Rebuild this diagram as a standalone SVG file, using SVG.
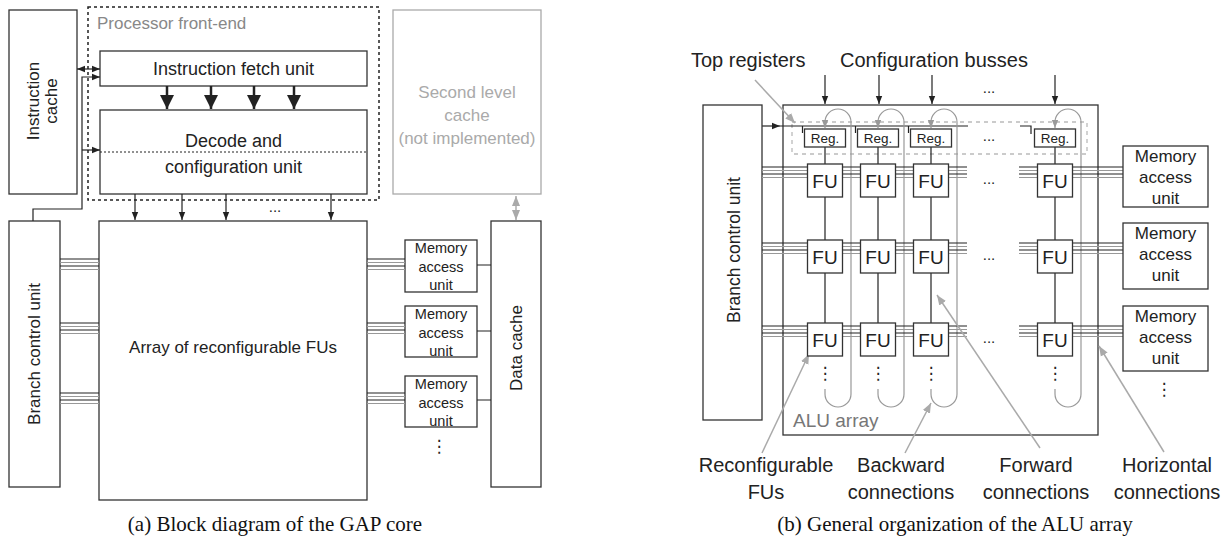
<svg xmlns="http://www.w3.org/2000/svg" width="1228" height="536" viewBox="0 0 1228 536">
<style>
text{font-family:"Liberation Sans",Arial,sans-serif;fill:#222}
.box{fill:#fff;stroke:#333;stroke-width:1.3}
.gbox{fill:#fff;stroke:#aaa;stroke-width:1.3}
.ln{stroke:#222;stroke-width:1.2;fill:none}
.gl{stroke:#999;stroke-width:1.2;fill:none}
.gp{stroke:#aaa;stroke-width:1.5;fill:none}
.c{text-anchor:middle}
.t17{font-size:17px}
.t18{font-size:18px}
.t20{font-size:20px}
.mau{font-size:14.5px;text-anchor:middle}
.maur{font-size:17px;text-anchor:middle}
.fu{font-size:19px;text-anchor:middle}
.reg{font-size:13.5px;text-anchor:middle}
.cap{font-family:"Liberation Serif","Times New Roman",serif;font-size:21px;text-anchor:middle;fill:#111}
.vd{font-family:"DejaVu Sans",sans-serif;font-size:17px;text-anchor:middle}
.hd{font-size:15px;text-anchor:middle}
</style>
<defs>
<marker id="a" viewBox="0 0 10 10" refX="10" refY="5" markerWidth="8" markerHeight="8" markerUnits="userSpaceOnUse" orient="auto-start-reverse"><path d="M0,1 L10,5 L0,9 z" fill="#222"/></marker>
<marker id="ab" viewBox="0 0 10 10" refX="10" refY="5" markerWidth="14" markerHeight="14" markerUnits="userSpaceOnUse" orient="auto"><path d="M0,0 L10,5 L0,10 z" fill="#222"/></marker>
<marker id="ag" viewBox="0 0 10 10" refX="10" refY="5" markerWidth="10" markerHeight="10" markerUnits="userSpaceOnUse" orient="auto-start-reverse"><path d="M0,1 L10,5 L0,9 z" fill="#aaa"/></marker>
<marker id="ag2" viewBox="0 0 10 10" refX="10" refY="5" markerWidth="8" markerHeight="8" markerUnits="userSpaceOnUse" orient="auto"><path d="M0,1 L10,5 L0,9 z" fill="#999"/></marker>
</defs>

<!-- ===== LEFT DIAGRAM ===== -->
<g id="frontend">
<rect x="88" y="7" width="291" height="193" fill="none" stroke="#222" stroke-width="1.5" stroke-dasharray="3,3"/>
<text x="97" y="29" class="t17" style="fill:#888">Processor front-end</text>
</g>
<g id="icache">
<rect class="box" x="9" y="10" width="68" height="184"/>
<text class="t17 c" transform="translate(39,101) rotate(-90)">Instruction</text>
<text class="t17 c" transform="translate(57,101) rotate(-90)">cache</text>
</g>
<g id="fetch">
<rect class="box" x="100" y="51" width="267" height="35"/>
<text class="t18 c" x="233.5" y="75">Instruction fetch unit</text>
</g>
<g id="decode">
<rect class="box" x="100" y="110" width="267" height="84"/>
<line x1="100" y1="152" x2="367" y2="152" stroke="#222" stroke-width="1" stroke-dasharray="2,2"/>
<text class="t18 c" x="233.5" y="147">Decode and</text>
<text class="t18 c" x="233.5" y="173">configuration unit</text>
</g>
<g id="l2cache">
<rect class="gbox" x="393" y="10" width="148" height="184"/>
<text class="t17 c" x="467" y="98" style="fill:#aaa">Second level</text>
<text class="t17 c" x="467" y="121" style="fill:#aaa">cache</text>
<text class="t17 c" x="467" y="144" style="fill:#aaa">(not implemented)</text>
</g>
<g id="array">
<rect class="box" x="99" y="221" width="268" height="279"/>
<text class="t17 c" x="233" y="353">Array of reconfigurable FUs</text>
</g>
<g id="branchL">
<rect class="box" x="9" y="221" width="51" height="266"/>
<text class="t17 c" transform="translate(40,354) rotate(-90)">Branch control unit</text>
</g>
<g id="dcache">
<rect class="box" x="491" y="221" width="50" height="266"/>
<text class="t17 c" transform="translate(522,348) rotate(-90)">Data cache</text>
</g>
<g id="mauL1">
<rect class="box" x="405" y="240" width="72" height="52"/>
<text class="mau" x="441" y="253">Memory</text><text class="mau" x="441" y="272">access</text><text class="mau" x="441" y="290">unit</text>
</g>
<g id="mauL2">
<rect class="box" x="405" y="306" width="72" height="51"/>
<text class="mau" x="441" y="319">Memory</text><text class="mau" x="441" y="338">access</text><text class="mau" x="441" y="356">unit</text>
</g>
<g id="mauL3">
<rect class="box" x="405" y="376" width="72" height="51"/>
<text class="mau" x="441" y="389">Memory</text><text class="mau" x="441" y="408">access</text><text class="mau" x="441" y="426">unit</text>
</g>
<text class="vd" x="439" y="452">⋮</text>
<text class="hd" x="275" y="212">...</text>

<g id="connectorsL">
<line class="ln" x1="77" y1="69" x2="100" y2="69" marker-start="url(#a)" marker-end="url(#a)"/>
<path class="ln" d="M33,221 V209 H82 V77 H100" marker-end="url(#a)"/>
<line class="ln" x1="82" y1="150" x2="100" y2="150" marker-end="url(#a)"/>
<g stroke="#222" stroke-width="2.5">
<line x1="167" y1="86" x2="167" y2="109" marker-end="url(#ab)"/>
<line x1="211" y1="86" x2="211" y2="109" marker-end="url(#ab)"/>
<line x1="254" y1="86" x2="254" y2="109" marker-end="url(#ab)"/>
<line x1="294" y1="86" x2="294" y2="109" marker-end="url(#ab)"/>
</g>
<line class="ln" x1="135" y1="194" x2="135" y2="220" marker-end="url(#a)"/>
<line class="ln" x1="182" y1="194" x2="182" y2="220" marker-end="url(#a)"/>
<line class="ln" x1="226" y1="194" x2="226" y2="220" marker-end="url(#a)"/>
<line class="ln" x1="331" y1="194" x2="331" y2="220" marker-end="url(#a)"/>
<line class="gl" x1="516" y1="196" x2="516" y2="220" stroke="#aaa" marker-start="url(#ag)" marker-end="url(#ag)"/>
<!-- buses branch-array and array-MAU -->
<g id="busL1">
<path class="ln" d="M60,259H99M60,266H99M367,259H405M367,266H405"/>
<path class="gl" d="M60,262.5H99M60,269.5H99M367,262.5H405M367,269.5H405"/>
</g>
<g id="busL2">
<path class="ln" d="M60,323H99M60,330H99M367,323H405M367,330H405"/>
<path class="gl" d="M60,326.5H99M60,333.5H99M367,326.5H405M367,333.5H405"/>
</g>
<g id="busL3">
<path class="ln" d="M60,393H99M60,400H99M367,393H405M367,400H405"/>
<path class="gl" d="M60,396.5H99M60,403.5H99M367,396.5H405M367,403.5H405"/>
</g>
<path class="ln" d="M477,265H491M477,331H491M477,400H491"/>
</g>

<!-- ===== RIGHT DIAGRAM ===== -->
<text class="t20" x="691" y="67">Top registers</text>
<text class="t20" x="840" y="67">Configuration busses</text>
<text class="hd" x="989" y="93">...</text>

<g id="branchR">
<rect class="box" x="703" y="105" width="59" height="315"/>
<text class="c" style="font-size:17.5px" transform="translate(740,250) rotate(-90)">Branch control unit</text>
</g>
<g id="aluarray">
<rect fill="none" stroke="#333" stroke-width="1.3" x="783" y="105" width="315" height="330"/>
<text x="793" y="427" style="font-size:19px;fill:#777">ALU array</text>
</g>
<g id="topregs">
<rect x="792" y="122" width="295" height="32" fill="none" stroke="#bbb" stroke-width="1.3" stroke-dasharray="4,4"/>
</g>

<g id="connectorsR">
<!-- config busses -->
<line class="ln" x1="825" y1="75" x2="825" y2="104" stroke-width="1.5" marker-end="url(#a)"/>
<line class="ln" x1="879" y1="75" x2="879" y2="104" stroke-width="1.5" marker-end="url(#a)"/>
<line class="ln" x1="932" y1="75" x2="932" y2="104" stroke-width="1.5" marker-end="url(#a)"/>
<line class="ln" x1="1055" y1="75" x2="1055" y2="104" stroke-width="1.5" marker-end="url(#a)"/>
<!-- branch to top regs -->
<line class="ln" x1="762" y1="126" x2="780" y2="126" marker-end="url(#a)"/>
<path class="ln" d="M780,126H968M1020,126H1031V134M802.5,126V133M855.5,126V133M908.5,126V133"/>
<!-- vertical FU links -->
<path class="ln" d="M825,147V164M825,197V240M825,273V323M878,147V164M878,197V240M878,273V323M931,147V164M931,197V240M931,273V323M1055,147V164M1055,197V240M1055,273V323"/>
<!-- gray loops -->
<g class="gl" stroke="#aaa">
<path d="M825,389V394A13,13 0 0 0 851,394V122A13,13 0 0 0 825,122V128" marker-end="url(#ag2)"/>
<path d="M878,389V394A13,13 0 0 0 904,394V122A13,13 0 0 0 878,122V128" marker-end="url(#ag2)"/>
<path d="M931,389V394A13,13 0 0 0 957,394V122A13,13 0 0 0 931,122V128" marker-end="url(#ag2)"/>
<path d="M1055,389V394A13,13 0 0 0 1081,394V122A13,13 0 0 0 1055,122V128" marker-end="url(#ag2)"/>
</g>
<!-- horizontal connections -->
<g id="hbus1">
<path class="ln" d="M762,167H807.5M842.5,167H860.5M895.5,167H913.5M948.5,167H967M1019,167H1037.5M1072.5,167H1123M762,174H807.5M842.5,174H860.5M895.5,174H913.5M948.5,174H967M1019,174H1037.5M1072.5,174H1123"/>
<path class="gl" d="M762,170.5H807.5M842.5,170.5H860.5M895.5,170.5H913.5M948.5,170.5H967M1019,170.5H1037.5M1072.5,170.5H1123M762,177.5H807.5M842.5,177.5H860.5M895.5,177.5H913.5M948.5,177.5H967M1019,177.5H1037.5M1072.5,177.5H1123"/>
</g>
<g id="hbus2">
<path class="ln" d="M762,243H807.5M842.5,243H860.5M895.5,243H913.5M948.5,243H967M1019,243H1037.5M1072.5,243H1123M762,250H807.5M842.5,250H860.5M895.5,250H913.5M948.5,250H967M1019,250H1037.5M1072.5,250H1123"/>
<path class="gl" d="M762,246.5H807.5M842.5,246.5H860.5M895.5,246.5H913.5M948.5,246.5H967M1019,246.5H1037.5M1072.5,246.5H1123M762,253.5H807.5M842.5,253.5H860.5M895.5,253.5H913.5M948.5,253.5H967M1019,253.5H1037.5M1072.5,253.5H1123"/>
</g>
<g id="hbus3">
<path class="ln" d="M762,326H807.5M842.5,326H860.5M895.5,326H913.5M948.5,326H967M1019,326H1037.5M1072.5,326H1123M762,333H807.5M842.5,333H860.5M895.5,333H913.5M948.5,333H967M1019,333H1037.5M1072.5,333H1123"/>
<path class="gl" d="M762,329.5H807.5M842.5,329.5H860.5M895.5,329.5H913.5M948.5,329.5H967M1019,329.5H1037.5M1072.5,329.5H1123M762,336.5H807.5M842.5,336.5H860.5M895.5,336.5H913.5M948.5,336.5H967M1019,336.5H1037.5M1072.5,336.5H1123"/>
</g>
<!-- label pointers -->
<line class="gp" x1="755" y1="80" x2="795" y2="123" marker-end="url(#ag)"/>
<line class="gp" x1="762" y1="453" x2="809" y2="354" marker-end="url(#ag)"/>
<line class="gp" x1="905" y1="453" x2="931" y2="403" marker-end="url(#ag)"/>
<line class="gp" x1="1040" y1="448" x2="937" y2="295" marker-end="url(#ag)"/>
<line class="gp" x1="1164" y1="452" x2="1099" y2="346" marker-end="url(#ag)"/>
</g>

<!-- registers -->
<g id="reg1"><rect class="box" x="804.5" y="129" width="41" height="18"/><text class="reg" x="825" y="143">Reg.</text></g>
<g id="reg2"><rect class="box" x="857.5" y="129" width="41" height="18"/><text class="reg" x="878" y="143">Reg.</text></g>
<g id="reg3"><rect class="box" x="910.5" y="129" width="41" height="18"/><text class="reg" x="931" y="143">Reg.</text></g>
<g id="reg4"><rect class="box" x="1034.5" y="129" width="41" height="18"/><text class="reg" x="1055" y="143">Reg.</text></g>
<text class="hd" x="989" y="141">...</text>

<!-- FUs -->
<g id="fu11"><rect class="box" x="807.5" y="164" width="35" height="33"/><text class="fu" x="825" y="188">FU</text></g>
<g id="fu12"><rect class="box" x="860.5" y="164" width="35" height="33"/><text class="fu" x="878" y="188">FU</text></g>
<g id="fu13"><rect class="box" x="913.5" y="164" width="35" height="33"/><text class="fu" x="931" y="188">FU</text></g>
<g id="fu14"><rect class="box" x="1037.5" y="164" width="35" height="33"/><text class="fu" x="1055" y="188">FU</text></g>
<g id="fu21"><rect class="box" x="807.5" y="240" width="35" height="33"/><text class="fu" x="825" y="264">FU</text></g>
<g id="fu22"><rect class="box" x="860.5" y="240" width="35" height="33"/><text class="fu" x="878" y="264">FU</text></g>
<g id="fu23"><rect class="box" x="913.5" y="240" width="35" height="33"/><text class="fu" x="931" y="264">FU</text></g>
<g id="fu24"><rect class="box" x="1037.5" y="240" width="35" height="33"/><text class="fu" x="1055" y="264">FU</text></g>
<g id="fu31"><rect class="box" x="807.5" y="323" width="35" height="33"/><text class="fu" x="825" y="347">FU</text></g>
<g id="fu32"><rect class="box" x="860.5" y="323" width="35" height="33"/><text class="fu" x="878" y="347">FU</text></g>
<g id="fu33"><rect class="box" x="913.5" y="323" width="35" height="33"/><text class="fu" x="931" y="347">FU</text></g>
<g id="fu34"><rect class="box" x="1037.5" y="323" width="35" height="33"/><text class="fu" x="1055" y="347">FU</text></g>
<text class="hd" x="989" y="184">...</text>
<text class="hd" x="989" y="260">...</text>
<text class="hd" x="989" y="343">...</text>
<text class="vd" x="825" y="379">⋮</text>
<text class="vd" x="878" y="379">⋮</text>
<text class="vd" x="931" y="379">⋮</text>
<text class="vd" x="1055" y="379">⋮</text>

<!-- right MAUs -->
<g id="mauR1"><rect class="box" x="1123" y="146" width="85" height="61"/>
<text class="maur" x="1165.5" y="162">Memory</text><text class="maur" x="1165.5" y="183">access</text><text class="maur" x="1165.5" y="204">unit</text></g>
<g id="mauR2"><rect class="box" x="1123" y="223" width="85" height="66"/>
<text class="maur" x="1165.5" y="239">Memory</text><text class="maur" x="1165.5" y="260">access</text><text class="maur" x="1165.5" y="281">unit</text></g>
<g id="mauR3"><rect class="box" x="1123" y="306" width="85" height="65"/>
<text class="maur" x="1165.5" y="322">Memory</text><text class="maur" x="1165.5" y="343">access</text><text class="maur" x="1165.5" y="364">unit</text></g>
<text class="vd" x="1164" y="395">⋮</text>

<!-- labels -->
<text class="t20 c" x="766" y="472">Reconfigurable</text>
<text class="t20 c" x="766" y="499">FUs</text>
<text class="t20 c" x="901" y="472">Backward</text>
<text class="t20 c" x="901" y="499">connections</text>
<text class="t20 c" x="1036" y="472">Forward</text>
<text class="t20 c" x="1036" y="499">connections</text>
<text class="t20 c" x="1167" y="472">Horizontal</text>
<text class="t20 c" x="1167" y="499">connections</text>

<text class="cap" x="275" y="531">(a) Block diagram of the GAP core</text>
<text class="cap" x="955" y="531">(b) General organization of the ALU array</text>
</svg>
